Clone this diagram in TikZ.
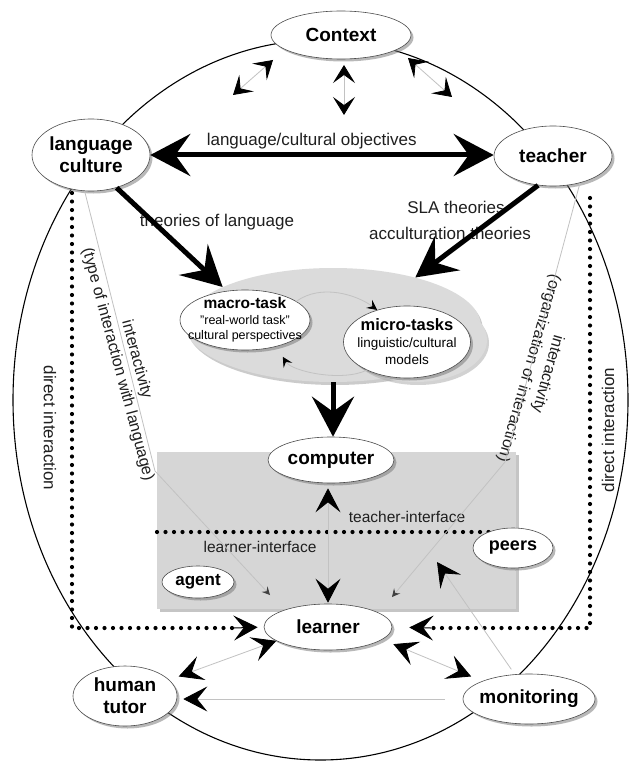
\documentclass[tikz,border=0pt]{standalone}
\usepackage{fontspec}
\setmainfont{Liberation Sans}
\usetikzlibrary{shapes.geometric,arrows.meta,shadows}

\definecolor{panelgray}{gray}{0.84}
\definecolor{blobgray}{gray}{0.86}
\definecolor{linegray}{gray}{0.76}
\definecolor{textgray}{gray}{0.12}

\tikzset{
  bigtip/.tip={Stealth[length=40pt,width=42pt,inset=15pt]},
  midtip/.tip={Stealth[length=24pt,width=25pt,inset=10pt,color=black]},
  ctxtip/.tip={Stealth[length=18pt,width=22pt,inset=8pt,color=black]},
  curvetip/.tip={Stealth[length=10pt,width=10pt,inset=4pt,color=black]},
  smalltip/.tip={Stealth[length=8pt,width=8pt,inset=3pt,color=black!75]},
}

\begin{document}
\begin{tikzpicture}[x=1pt,y=-1pt,
  ent/.style={ellipse, draw=black!70, line width=0.6pt, fill=white, inner sep=0pt,
    align=center, font=\bfseries\fontsize{19}{22}\selectfont,
    drop shadow={shadow xshift=2.5pt, shadow yshift=-2.5pt, fill=black!55}},
  lbl/.style={font=\fontsize{17}{20}\selectfont, text=textgray, inner sep=0pt, align=center},
  slbl/.style={font=\fontsize{15.5}{18}\selectfont, text=textgray, inner sep=0pt},
  ilbl/.style={font=\fontsize{16}{19.5}\selectfont, text=textgray, inner sep=0pt, align=center},
  dots/.style={line width=4.2pt, line cap=round, dash pattern=on 0pt off 8.5pt},
  heavy/.style={line width=5pt},
  faint/.style={draw=linegray, line width=0.8pt},
]
\useasboundingbox (0,0) rectangle (631,762);
\fill[white] (0,0) rectangle (631,762);

% outer boundary
\draw[line width=1.1pt] (320.5,400) ellipse [x radius=307.5pt, y radius=360pt];

% dotted frame of direct interaction
\coordinate (fLT) at (72,193);
\coordinate (fLB) at (72,628);
\coordinate (fLE) at (234,628);
\coordinate (fRT) at (590,198);
\coordinate (fRB) at (590,628);
\coordinate (fRE) at (431,628);
\draw[dots] (fLT) -- (fLB) -- (fLE);
\draw[dots] (fRT) -- (fRB) -- (fRE);

% interface panel
\fill[panelgray, drop shadow={shadow xshift=3pt, shadow yshift=-3pt, fill=black!45}]
  (157,452) rectangle (516,609);
\draw[dots] (157,532) -- (514,532);

% task cloud
\node[ellipse, fill=blobgray, minimum width=295pt, minimum height=114pt,
  drop shadow={shadow xshift=2pt, shadow yshift=-3pt, fill=black!40}] (blob) at (333,325) {};
\node[ellipse, fill=blobgray, minimum width=142pt, minimum height=84pt,
  drop shadow={shadow xshift=2pt, shadow yshift=-3pt, fill=black!35}] (halo) at (416,340) {};

% entities
\node[ent, minimum width=140pt, minimum height=48pt] (ctx) at (341,35) {Context};
\node[ent, minimum width=118pt, minimum height=72pt] (lang) at (91,155) {language\\culture};
\node[ent, minimum width=118pt, minimum height=60pt] (teacher) at (553,156) {teacher};
\node[ent, font=\fontsize{12.5}{15.5}\selectfont, minimum width=130pt, minimum height=60pt,
  inner xsep=-12pt, inner ysep=-3pt] (macro) at (245,320)
  {{\bfseries\fontsize{15.5}{15.5}\selectfont macro-task}\\"real-world task"\\cultural perspectives};
\node[ent, font=\fontsize{13.5}{17}\selectfont, minimum width=127pt, minimum height=72pt,
  inner xsep=-6pt, inner ysep=0pt] (micro) at (407,342)
  {{\bfseries\fontsize{16.5}{17}\selectfont micro-tasks}\\linguistic/cultural\\models};
\node[ent, minimum width=126pt, minimum height=46pt] (computer) at (331,460) {computer};
\node[ent, font=\bfseries\fontsize{18}{20}\selectfont, minimum width=80pt, minimum height=40pt] (peers) at (513,548) {peers};
\node[ent, font=\bfseries\fontsize{17}{20}\selectfont, minimum width=72pt, minimum height=32pt] (agent) at (198,582) {agent};
\node[ent, minimum width=128pt, minimum height=46pt] (learner) at (328,627) {learner};
\node[ent, minimum width=104pt, minimum height=60pt] (tutor) at (125,696) {human\\tutor};
\node[ent, inner xsep=-3pt, minimum width=132pt, minimum height=50pt] (monitor) at (529,699) {monitoring};

% labels
\node[lbl] (tlang) at (217,222) {theories of language};
\node[lbl] (tsla) at (456,207) {SLA theories};
\node[lbl] (tacc) at (450,233) {acculturation theories};
\node[slbl] (tif) at (407,517) {teacher-interface};
\node[slbl] (lif) at (260,547) {learner-interface};
\node[lbl, rotate=-90] (dil) at (50,428) {direct interaction};
\node[lbl, rotate=90] (dir) at (608,430) {direct interaction};
\node[ilbl, rotate=-75] (ial) at (127,362) {interactivity\\(type of interaction with language)};
\node[ilbl, rotate=-106] (iar) at (538,371) {interactivity\\(organization of interaction)};

% interactivity lines
\coordinate (lbend) at (155,471);
\coordinate (lend) at (270,595);
\coordinate (rbend) at (505,462);
\coordinate (rend) at (392,597);
\draw[faint, -{smalltip}] (lang.-100) -- (lbend) -- (lend);
\draw[faint, -{smalltip}] (teacher.-45) -- (rbend) -- (rend);

% context influences
\coordinate (cA1) at (233,95);
\coordinate (cA2) at (273,60);
\coordinate (cB1) at (344,115);
\coordinate (cB2) at (344,65);
\coordinate (cC1) at (452,97);
\coordinate (cC2) at (408,58);
\draw[faint, {ctxtip}-{ctxtip}] (cA1) -- (cA2);
\draw[faint, {ctxtip}-{ctxtip}] (cB1) -- (cB2);
\draw[faint, {ctxtip}-{ctxtip}] (cC1) -- (cC2);

% main flows
\draw[heavy, {bigtip}-{bigtip}] (lang.east) -- (lang.east -| teacher.west)
  node[lbl, pos=0.47, above=3pt] (tobj) {language/cultural objectives};
\draw[heavy, -{bigtip}] (lang.-52) -- (blob.161);
\draw[heavy, -{bigtip}] (teacher.-117) -- (blob.30);
\draw[heavy, -{bigtip}] (blob.south) -- (blob.south |- computer.north);

% task cycle
\draw[faint, -{curvetip}] (macro.20) .. controls +(25,-18) and +(-20,-15) .. (micro.133);
\draw[faint, -{curvetip}, shorten >=12pt] (micro.215) .. controls +(-25,12) and +(15,25) .. (macro.-40);

% learner connections
\draw[faint, {midtip}-{midtip}, shorten <=5pt, shorten >=1pt]
  (computer.south -| learner.north) -- (learner.north);
\draw[line width=1pt, -{midtip}, shorten >=6pt] (fLE) -- (learner.west);
\draw[line width=1pt, -{midtip}, shorten >=17pt] (fRE) -- (learner.east);
\draw[faint, {midtip}-{midtip}, shorten >=10pt] (learner.195) -- (tutor.20);
\draw[faint, {midtip}-{midtip}, shorten <=12pt, shorten >=12pt] (learner.-13) -- (monitor.159);
\draw[faint, -{midtip}, shorten <=18pt, shorten >=6pt] (monitor.west) -- (monitor.west -| tutor.east);
\coordinate (mtip) at (437,562);
\draw[faint, -{midtip}, shorten <=6pt] (monitor.120) -- (mtip);
\end{tikzpicture}
\end{document}
